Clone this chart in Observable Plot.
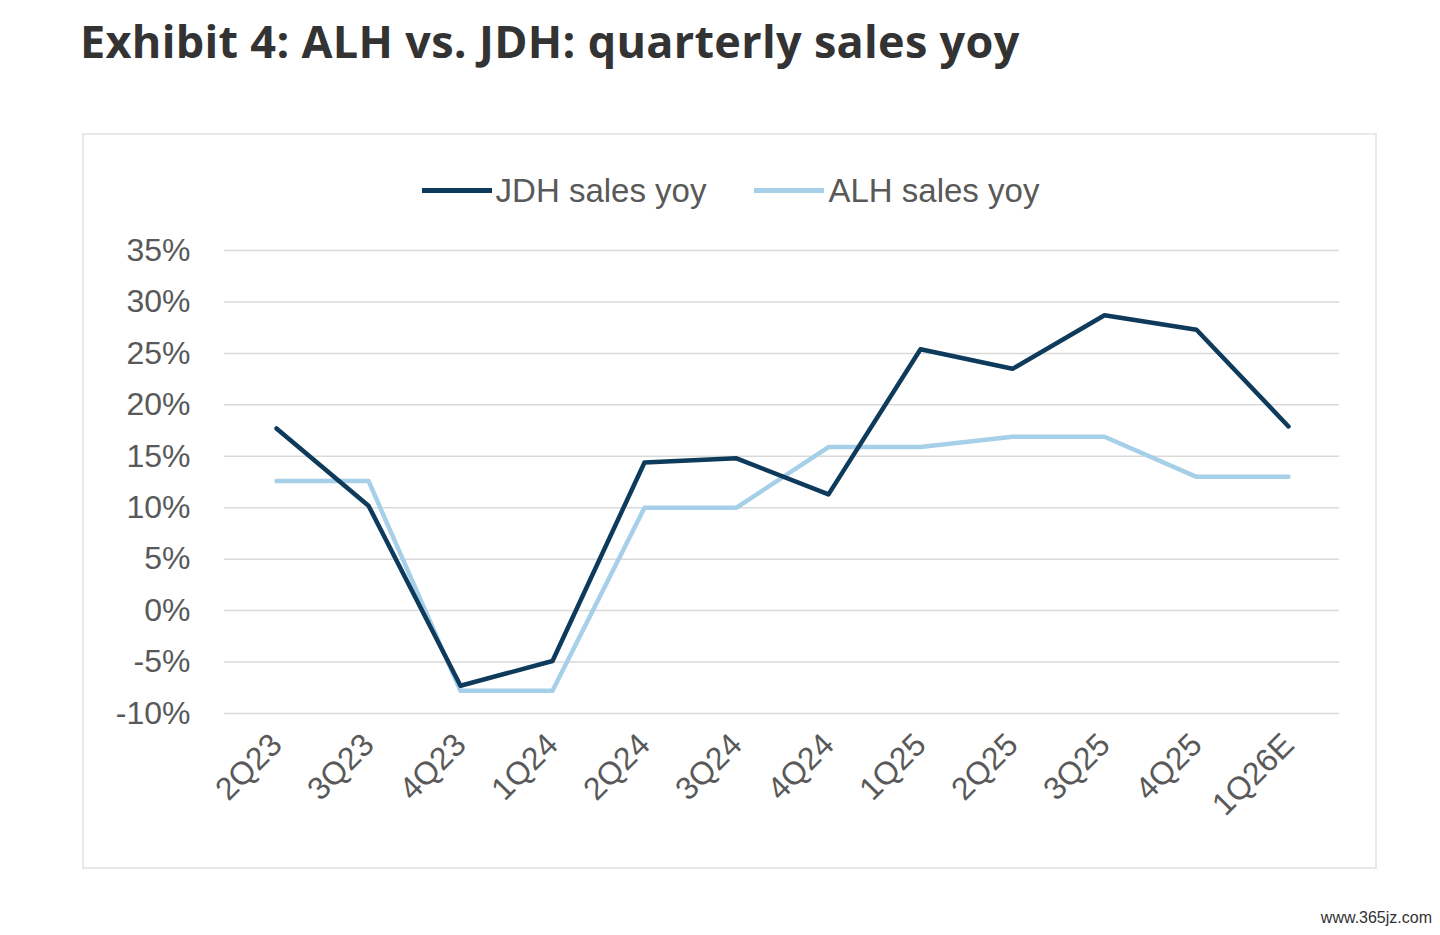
<!DOCTYPE html>
<html><head><meta charset="utf-8">
<script src="https://cdn.jsdelivr.net/npm/d3@7"></script>
<script src="https://cdn.jsdelivr.net/npm/@observablehq/plot@0.6"></script>
<style>
body{margin:0;background:#fff;width:1440px;height:935px;position:relative;font-family:"Liberation Sans",Arial,sans-serif;overflow:hidden}
#title{position:absolute;left:80px;top:10px;font-family:"Open Sans",sans-serif;font-weight:700;font-size:45px;color:#333;letter-spacing:0.3px}
#box{position:absolute;left:82px;top:133px;width:1291px;height:732px;border:2px solid #e8e8e8}
#legend{position:absolute;left:0;width:1293px;top:28px;text-align:center;font-size:33px;color:#595959}
#legend span{display:inline-flex;align-items:center;margin:0 24px}
#legend i{display:inline-block;width:70px;height:5px;margin-right:4px}
#chart{position:absolute;left:0;top:95px}
#wm{position:absolute;right:8px;bottom:8px;font-size:16px;color:#333}
</style></head><body>
<div id="title">Exhibit 4: ALH vs. JDH: quarterly sales yoy</div>
<div id="box">
<div id="legend"><span><i style="background:#0e3a5c"></i>JDH sales yoy</span><span><i style="background:#a6cfe8"></i>ALH sales yoy</span></div>
<div id="chart"></div>
</div>
<div id="wm">www.365jz.com</div>
<script>
const quarters=["2Q23","3Q23","4Q23","1Q24","2Q24","3Q24","4Q24","1Q25","2Q25","3Q25","4Q25","1Q26E"];
const jdh=[17.7,10.2,-7.3,-4.9,14.4,14.8,11.3,25.4,23.5,28.7,27.3,17.9];
const alh=[12.6,12.6,-7.8,-7.8,10.0,10.0,15.9,15.9,16.9,16.9,13.0,13.0];
const yTicks=[-10,-5,0,5,10,15,20,25,30,35];
const data=[
 ...quarters.map((q,i)=>({q,v:alh[i],s:"ALH"})),
 ...quarters.map((q,i)=>({q,v:jdh[i],s:"JDH"}))
];
const plot=Plot.plot({
 width:1291,height:630,marginLeft:140,marginRight:36,marginTop:20,marginBottom:147,
 style:{fontFamily:"Liberation Sans, Arial, sans-serif",fontSize:"32px",color:"#595959"},
 x:{type:"point",domain:quarters,padding:0.5,label:null},
 y:{domain:[-10,35],label:null},
 marks:[
  Plot.gridY(yTicks,{stroke:"#d9d9d9",strokeOpacity:1,strokeWidth:1.5}),
  Plot.axisY(yTicks,{tickSize:0,tickPadding:34,tickFormat:d=>d+"%",fill:"#595959"}),
  Plot.axisX({tickSize:0,tickRotate:-45,tickPadding:26,fill:"#595959"}),
  Plot.line(data,{x:"q",y:"v",z:"s",stroke:d=>d.s==="JDH"?"#0e3a5c":"#a6cfe8",strokeWidth:4.5})
 ]
});
document.getElementById("chart").append(plot);
</script>
</body></html>
